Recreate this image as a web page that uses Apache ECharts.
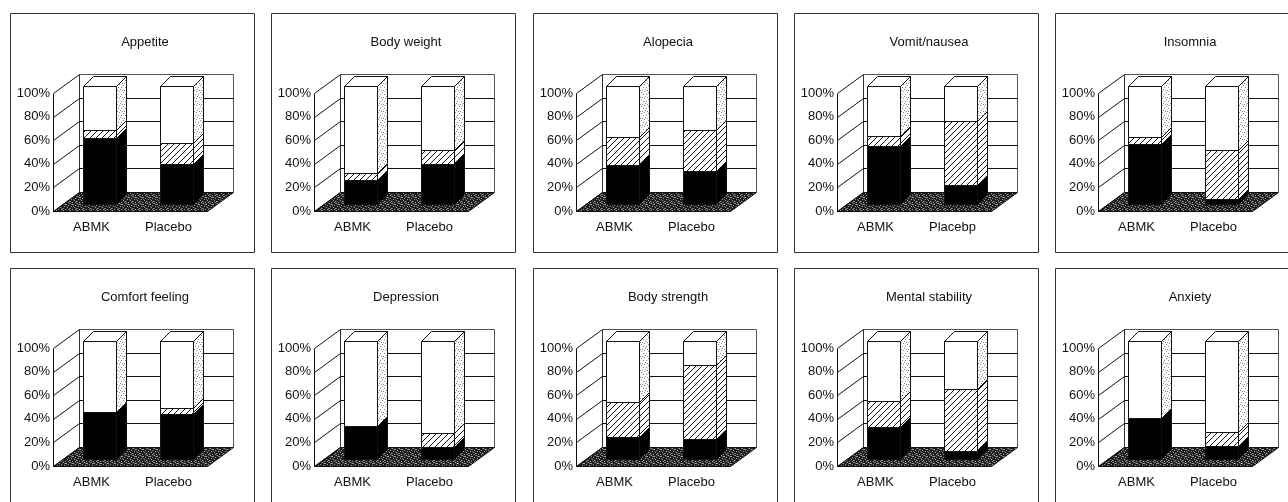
<!DOCTYPE html>
<html lang="en">
<head>
<meta charset="UTF-8">
<title>ABMK vs Placebo</title>
<script src="https://cdn.jsdelivr.net/npm/echarts@6/dist/echarts.min.js"></script>
<style>
    html, body { margin: 0; padding: 0; background: #fff; }
    #charts { width: 1288px; height: 502px; }
</style>
</head>
<body>
<div id="charts"></div>
<script>
    var titles = ['Appetite', 'Body weight', 'Alopecia', 'Vomit/nausea', 'Insomnia',
                  'Comfort feeling', 'Depression', 'Body strength', 'Mental stability', 'Anxiety'];
    var groups = ['ABMK', 'Placebo'];
    var groupsVomit = ['ABMK', 'Placebp'];   // typo is in the original figure
    var yTicks = [0, 20, 40, 60, 80, 100];

    // percent of patients per panel, [ABMK, Placebo]
    var blackPart = [[56, 34], [20, 34], [33, 28], [49, 16], [51, 4],
                     [40, 38], [28, 10], [19, 17], [27, 7], [35, 11]];
    var hatchPart = [[7, 18], [6, 12], [24, 35], [9, 54], [6, 42],
                     [0, 5], [0, 12], [29, 63], [22, 52], [0, 12]];
    var whitePart = [[37, 48], [74, 54], [43, 37], [42, 30], [43, 54],
                     [60, 57], [72, 78], [52, 20], [51, 41], [65, 77]];

    var panelLeft = [10, 271, 533, 794, 1055];
    var panelTop = [13, 268];
    var PANEL_W = 244, PANEL_H = 239;

    // fake 3d offsets
    var WALL_DX = 26, WALL_DY = -19;
    var BAR_DX = 8, BAR_DY = -7;
    var DEP_DX = 10, DEP_DY = -10;
    var BAR_RATIO = 0.43;
    var FONT = 'Liberation Sans, Arial, sans-serif';

    function makePattern(size, draw) {
        var c = document.createElement('canvas');
        c.width = size;
        c.height = size;
        draw(c.getContext('2d'), size);
        return { image: c, repeat: 'repeat' };
    }
    function dots(ctx, color, pts) {
        ctx.fillStyle = color;
        pts.forEach(function (p) { ctx.fillRect(p[0], p[1], 1, 1); });
    }

    var hatchFill = makePattern(6, function (ctx, s) {
        ctx.fillStyle = '#fff';
        ctx.fillRect(0, 0, s, s);
        ctx.strokeStyle = '#111';
        ctx.lineWidth = 1;
        ctx.beginPath();
        ctx.moveTo(-1, s + 1); ctx.lineTo(s + 1, -1);
        ctx.moveTo(-1, 1); ctx.lineTo(1, -1);
        ctx.moveTo(s - 1, s + 1); ctx.lineTo(s + 1, s - 1);
        ctx.stroke();
    });
    var floorFill = makePattern(7, function (ctx) {
        ctx.fillStyle = '#1e1e1e';
        ctx.fillRect(0, 0, 7, 7);
        dots(ctx, '#a0a0a0', [[0, 0], [3, 1], [5, 2], [1, 3], [4, 4], [6, 5], [2, 6], [5, 6], [2, 1]]);
        dots(ctx, '#606060', [[6, 0], [0, 5], [3, 3], [1, 1]]);
    });
    var dotFill = makePattern(7, function (ctx) {
        ctx.fillStyle = '#fff';
        ctx.fillRect(0, 0, 7, 7);
        dots(ctx, '#8c8c8c', [[0, 0], [4, 1], [2, 3], [6, 3], [1, 5], [5, 6], [3, 6]]);
    });

    var frontFill = ['#000', hatchFill, '#fff'];
    var sideFill = ['#000', hatchFill, dotFill];

    function poly(points, fill) {
        return {
            type: 'polygon',
            shape: { points: points },
            style: { fill: fill, stroke: '#111', lineWidth: 1 }
        };
    }
    function line(x1, y1, x2, y2, color) {
        return {
            type: 'line',
            shape: { x1: x1, y1: y1, x2: x2, y2: y2 },
            style: { stroke: color || '#111', lineWidth: 1 }
        };
    }

    // walls, floor and back grid lines
    function renderFrame(params, api) {
        var cs = params.coordSys;
        var L = Math.round(cs.x) + 0.5, R = Math.round(cs.x + cs.width) + 0.5;
        var v = api.value(1);
        var y = Math.round(api.coord([0, v])[1]) + 0.5;
        var yTop = Math.round(api.coord([0, 100])[1]) + 0.5;
        var kids = [];
        if (v === 0) {
            kids.push(poly([[L, y], [R, y], [R + WALL_DX, y + WALL_DY], [L + WALL_DX, y + WALL_DY]], floorFill));
            kids.push(line(L, y, L, yTop));
            kids.push(line(L + WALL_DX, y + WALL_DY, L + WALL_DX, yTop + WALL_DY, '#333'));
            kids.push(line(R + WALL_DX, y + WALL_DY, R + WALL_DX, yTop + WALL_DY, '#555'));
        } else {
            kids.push(line(L + WALL_DX, y + WALL_DY, R + WALL_DX, y + WALL_DY, v === 100 ? '#555' : '#111'));
        }
        kids.push(line(L, y, L + WALL_DX, y + WALL_DY));
        return { type: 'group', children: kids };
    }

    function renderBar(params, api) {
        var cat = api.value(0);
        var p0 = api.coord([cat, api.value(1)]);
        var p1 = api.coord([cat, api.value(2)]);
        var kind = api.value(3);
        var bw = Math.round(api.size([1, 0])[0] * BAR_RATIO);
        var xl = Math.round(p0[0] + BAR_DX - bw / 2) + 0.5, xr = xl + bw;
        var yb = Math.round(p0[1] + BAR_DY) + 0.5, yt = Math.round(p1[1] + BAR_DY) + 0.5;
        var kids = [
            poly([[xl, yb], [xr, yb], [xr, yt], [xl, yt]], frontFill[kind]),
            poly([[xr, yb], [xr, yt], [xr + DEP_DX, yt + DEP_DY], [xr + DEP_DX, yb + DEP_DY]], sideFill[kind])
        ];
        if (api.value(4) === 1) {
            kids.push(poly([[xl, yt], [xr, yt], [xr + DEP_DX, yt + DEP_DY], [xl + DEP_DX, yt + DEP_DY]], '#fff'));
        }
        return { type: 'group', children: kids };
    }

    function barData(p) {
        var out = [];
        for (var j = 0; j < 2; j++) {
            var parts = [blackPart[p][j], hatchPart[p][j], whitePart[p][j]];
            var total = parts[0] + parts[1] + parts[2];
            var s = 0;
            for (var k = 0; k < 3; k++) {
                if (parts[k] > 0) {
                    out.push([j, s, s + parts[k], k, s + parts[k] === total ? 1 : 0]);
                    s += parts[k];
                }
            }
        }
        return out;
    }

    var grids = [], xAxes = [], yAxes = [], series = [], graphics = [];

    for (var i = 0; i < titles.length; i++) {
        var px = panelLeft[i % 5], py = panelTop[Math.floor(i / 5)];

        graphics.push({
            type: 'rect', silent: true,
            shape: { x: px + 0.5, y: py + 0.5, width: PANEL_W, height: PANEL_H },
            style: { fill: 'none', stroke: '#333', lineWidth: 1 }
        });
        graphics.push({
            type: 'text', silent: true, x: px + 135, y: py + 29,
            style: {
                text: titles[i], fill: '#111', font: '13px ' + FONT,
                align: 'center', verticalAlign: 'middle',
                textAlign: 'center', textVerticalAlign: 'middle'
            }
        });

        grids.push({ left: px + 43, top: py + 80, width: 154, height: 118 });
        xAxes.push({
            type: 'category', gridIndex: i,
            data: i === 3 ? groupsVomit : groups,
            axisLine: { show: false },
            axisTick: { show: false },
            axisLabel: { color: '#111', fontSize: 13, fontFamily: FONT, margin: 10 }
        });
        yAxes.push({
            type: 'value', gridIndex: i, min: 0, max: 100, interval: 20,
            axisLine: { show: false },
            axisTick: { show: false },
            splitLine: { show: false },
            axisLabel: { formatter: '{value}%', color: '#111', fontSize: 13, fontFamily: FONT, margin: 3 }
        });
        series.push({
            type: 'custom', xAxisIndex: i, yAxisIndex: i, z: 1, clip: false, silent: true,
            renderItem: renderFrame,
            encode: { x: 0, y: 1 },
            data: yTicks.map(function (t) { return [0, t]; })
        });
        series.push({
            type: 'custom', xAxisIndex: i, yAxisIndex: i, z: 2, clip: false, silent: true,
            renderItem: renderBar,
            encode: { x: 0, y: [1, 2] },
            data: barData(i)
        });
    }

    var myChart = echarts.init(document.getElementById('charts'));
    myChart.setOption({
        animation: false,
        backgroundColor: '#fff',
        grid: grids,
        xAxis: xAxes,
        yAxis: yAxes,
        series: series,
        graphic: graphics
    });
</script>
</body>
</html>
